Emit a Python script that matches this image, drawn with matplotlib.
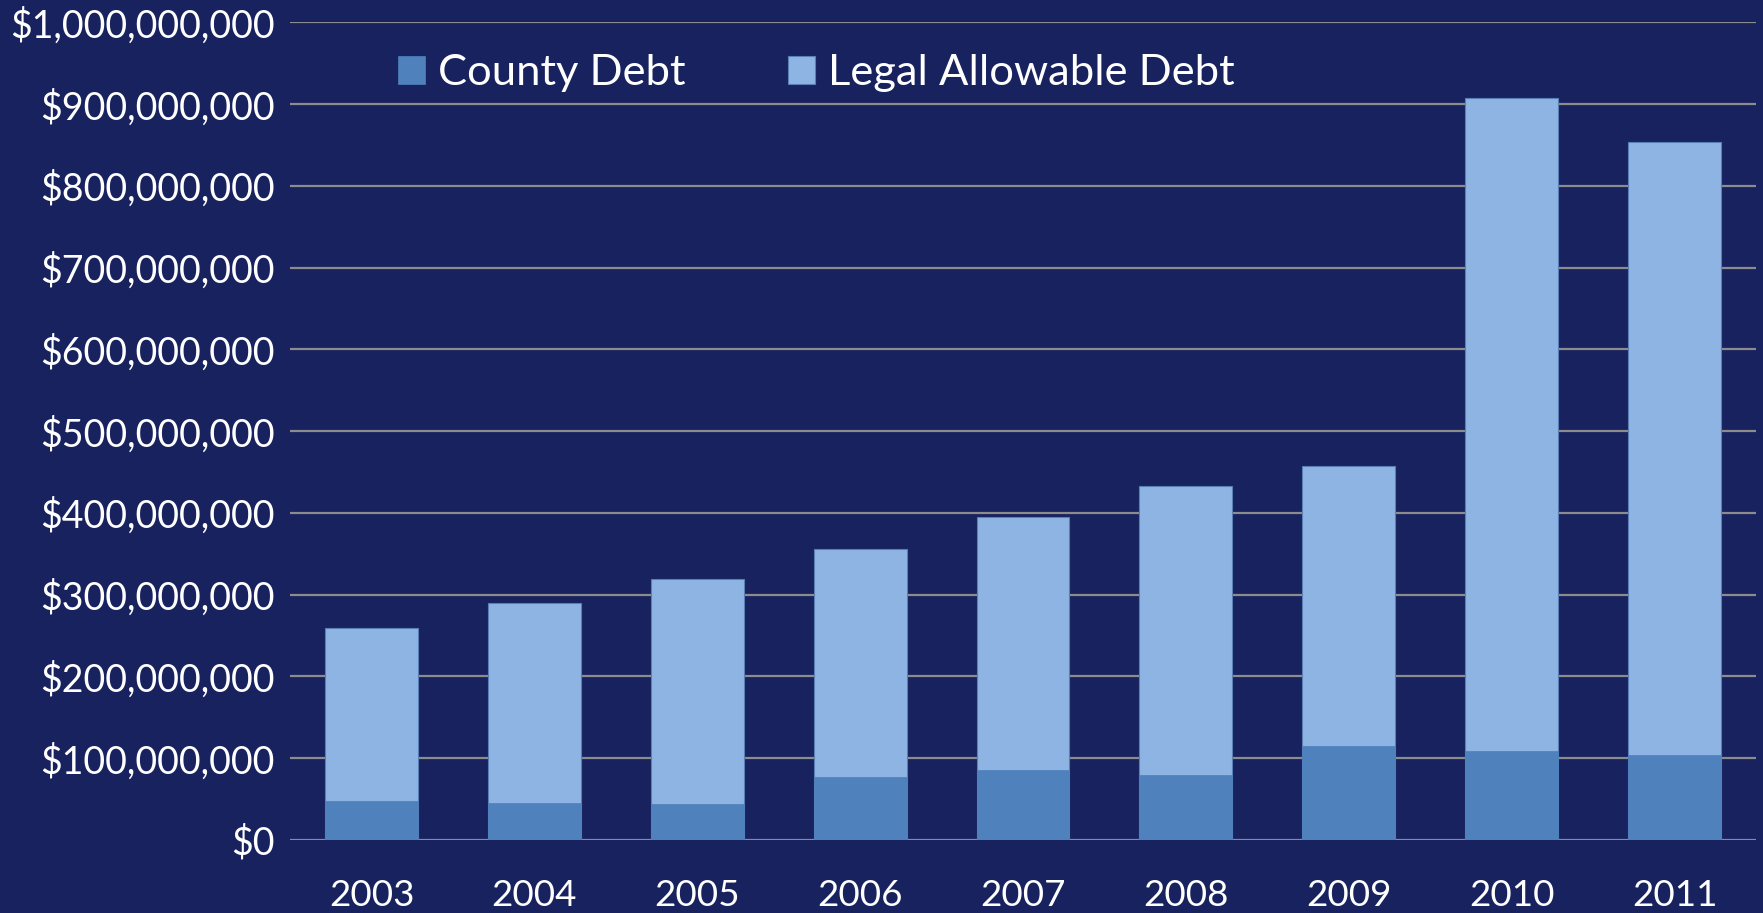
import matplotlib
matplotlib.use("Agg")
import matplotlib.pyplot as plt
from matplotlib.ticker import FuncFormatter

# values
years = ["2003", "2004", "2005", "2006", "2007", "2008", "2009", "2010", "2011"]
county_debt = [48e6, 45e6, 44e6, 77e6, 85e6, 80e6, 115e6, 109e6, 104e6]
legal_allowable = [259e6, 290e6, 319e6, 356e6, 395e6, 433e6, 457e6, 907e6, 854e6]

bg = "#18225E"
dark = "#4F81BD"
light = "#8EB4E3"

plt.rcParams['font.family'] = ['Lato', 'DejaVu Sans']

fig = plt.figure(figsize=(17.63, 9.13), dpi=100, facecolor=bg)
ax = fig.add_axes([0.1645, 0.08, 0.8315, 0.8954])
ax.set_facecolor(bg)

x = range(len(years))
ax.bar(x, legal_allowable, width=0.57, color=light, edgecolor="#5a7fb5",
       linewidth=0.8, zorder=3, label="Legal Allowable Debt")
ax.bar(x, county_debt, width=0.57, color=dark, edgecolor=dark,
       linewidth=0.5, zorder=4, label="County Debt")

ax.set_xlim(-0.5, len(years) - 0.5)
ax.set_ylim(0, 1e9)
ax.set_yticks([i * 1e8 for i in range(11)])
ax.yaxis.set_major_formatter(FuncFormatter(lambda v, p: "${:,.0f}".format(v)))
ax.set_xticks(list(x))
ax.set_xticklabels(years)

ax.grid(axis='y', color="#8c8c8c", linewidth=1.6, zorder=1)
ax.tick_params(axis='y', length=0, pad=11, labelsize=27, labelcolor="white")
ax.tick_params(axis='x', length=0, pad=28, labelsize=26.5, labelcolor="white")
for s in ax.spines.values():
    s.set_visible(False)

h, l = ax.get_legend_handles_labels()
leg = ax.legend(h[::-1], l[::-1], loc='center left', bbox_to_anchor=(0.074, 0.938),
                ncol=2, frameon=False, fontsize=31.3, labelcolor="white",
                handlelength=0.62, handleheight=0.62, handletextpad=0.3,
                columnspacing=2.35, borderpad=0, borderaxespad=0)

fig.savefig("out.png", dpi=100, facecolor=bg)
